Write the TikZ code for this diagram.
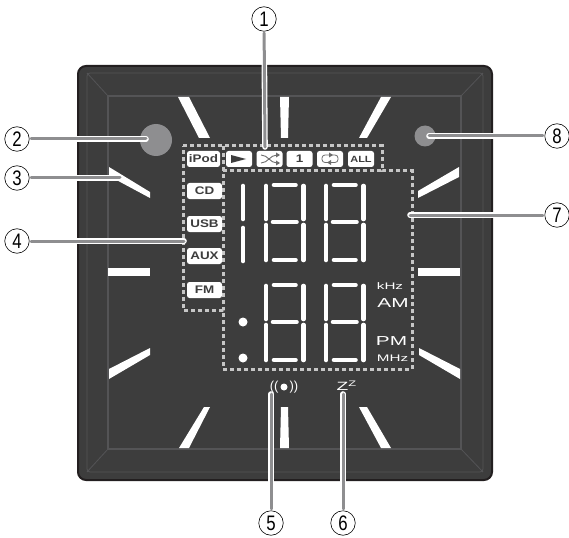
\documentclass[tikz,border=0pt]{standalone}
\usepackage{fontspec}
\setmainfont{Liberation Sans}
\newfontfamily\btnfont[FakeStretch=1.22]{Liberation Sans Bold}
\newfontfamily\widefont[FakeStretch=1.6]{Liberation Sans}
\newfontfamily\slimfont[FakeStretch=0.8]{Liberation Sans}
\definecolor{panelfill}{HTML}{3D3D3D}
\definecolor{paneledge}{HTML}{231F20}
\definecolor{panelline}{HTML}{545456}
\definecolor{leadgray}{HTML}{8E8E90}
\definecolor{framegray}{HTML}{C6C6C6}
\tikzset{
    btn/.style={fill=white, text=panelfill, rounded corners=2.5pt, inner sep=0pt, font=\btnfont\fontsize{11}{11}\selectfont},
    seg/.style={draw=white, line width=4.6pt, line cap=round},
    dotframe/.style={draw=framegray, line width=3pt, dash pattern=on 4pt off 3pt},
    halo/.style={draw=white, line width=5.6pt, line cap=round, shorten <=3pt},
    lead/.style={draw=leadgray, line width=3pt, line cap=round, shorten <=1.5pt},
    callout/.style={circle, draw=black, line width=0.6pt, fill=white, minimum size=24.5pt, inner sep=0pt, font=\slimfont\fontsize{21}{21}\selectfont},
    unit/.style={text=white, inner sep=0pt, font=\widefont\fontsize{9.5}{9.5}\selectfont},
    unitbig/.style={text=white, inner sep=0pt, font=\widefont\fontsize{13}{13}\selectfont}
}
\begin{document}
\begin{tikzpicture}[x=1pt, y=-1pt]
    \useasboundingbox (0, 0) rectangle (569, 537);

    % Boitier et biseau
    \draw[fill=panelfill, draw=paneledge, line width=2pt, rounded corners=8pt] (78, 66) rectangle (492, 480);
    \draw[panelline, line width=0.8pt, rounded corners=3pt] (87, 73) rectangle (483, 472);
    \draw[panelline, line width=1.2pt] (108, 96) rectangle (461, 449);
    \draw[panelline, line width=0.8pt] (87, 73) -- (108, 96);
    \draw[panelline, line width=0.8pt] (483, 73) -- (461, 96);
    \draw[panelline, line width=0.8pt] (87, 472) -- (108, 449);
    \draw[panelline, line width=0.8pt] (483, 472) -- (461, 449);

    % Traits blancs autour de l'afficheur
    \foreach \xa/\ya/\xb/\yb/\xc/\yc/\xd/\yd in {
        178/97/189/97/210/138/199/138, 280/97/289/97/288/138/281/138, 381/97/391/97/367/138/359/138,
        109/167/150/192/150/198/109/176, 108/268/150/268/150/276/108/276, 109/369/150/348/150/355/109/379,
        459/167/459/177/418/198/418/191, 418/268/460/268/460/276/418/276, 419/348/419/355/460/379/460/369,
        204/407/210/407/189/448/179/448, 281/407/288/407/289/448/280/448, 359/407/367/407/391/448/381/448} {
        \fill[white] (\xa, \ya) -- (\xb, \yb) -- (\xc, \yc) -- (\xd, \yd) -- cycle;
    }

    % Voyants
    \fill[leadgray] (156, 140) circle (16);
    \fill[leadgray] (425, 136) circle (10.5);

    % Cadres en pointilles
    \draw[dotframe] (183, 146) -- (382, 146) -- (382, 171) -- (412, 171) -- (412, 369) -- (223, 369) -- (223, 310) -- (183, 310) -- cycle;
    \draw[dotframe] (223, 146) -- (223, 310);
    \draw[dotframe] (223, 171) -- (382, 171);

    % Touches du haut
    \node[btn, minimum width=33pt, minimum height=16pt] (ipod) at (203.5, 159) {iPod};
    \node[btn, minimum width=26pt, minimum height=16pt] (play) at (239, 159) {};
    \node[btn, minimum width=26pt, minimum height=16pt] (shuffle) at (269.5, 159) {};
    \node[btn, minimum width=26pt, minimum height=16pt] (one) at (299.5, 159) {1};
    \node[btn, minimum width=26pt, minimum height=16pt] (repeat) at (330, 159) {};
    \node[btn, minimum width=26pt, minimum height=16pt, font=\btnfont\fontsize{9}{9}\selectfont] (all) at (361, 159) {ALL};

    % Touches de gauche
    \foreach \name/\lab/\y in {cd/CD/191, usb/USB/224, aux/AUX/256, fm/FM/290} {
        \node[btn, minimum width=35pt, minimum height=16pt] (\name) at (204.5, \y) {\lab};
    }

    % Icones des touches
    \fill[panelfill] (231, 155) -- (246, 159) -- (231, 163) -- cycle;
    \draw[panelfill!75, line width=0.9pt] (261, 155) .. controls (268, 155) and (270, 163) .. (277, 163);
    \draw[panelfill!75, line width=0.9pt] (261, 163) .. controls (268, 163) and (270, 155) .. (277, 155);
    \fill[panelfill!75] (276, 152.5) -- (280, 155) -- (276, 157.5) -- cycle;
    \fill[panelfill!75] (276, 160.5) -- (280, 163) -- (276, 165.5) -- cycle;
    \draw[panelfill!75, line width=0.8pt, rounded corners=3pt] (322, 155) rectangle (338, 162.5);
    \fill[panelfill!75] (329, 152.5) -- (333, 155) -- (329, 157.5) -- cycle;
    \fill[panelfill!75] (331, 160) -- (327, 162.5) -- (331, 165) -- cycle;

    % Afficheur : chiffre 1 de la ligne haute
    \draw[seg] (243, 186) -- (243, 219);
    \draw[seg] (243, 228) -- (243, 261);

    % Chiffres a sept segments
    \foreach \xl/\yt [count=\i] in {266/183, 326/183, 266/283, 326/283} {
        \pgfmathsetmacro{\xr}{\xl+37.5}
        \pgfmathsetmacro{\ym}{\yt+39}
        \pgfmathsetmacro{\yb}{\yt+78}
        \draw[seg] (\xl, \yt+3) -- (\xl, \ym-3);
        \draw[seg] (\xl, \ym+3) -- (\xl, \yb-1);
        \draw[seg] (\xr, \yt+3) -- (\xr, \ym-3);
        \draw[seg] (\xr, \ym+3) -- (\xr, \yb-1);
        \draw[seg] (\xl+8, \yt+2) -- (\xr-8, \yt+2);
        \draw[seg] (\xl+7, \ym) -- (\xr-7, \ym);
        \draw[seg] (\xl+8, \yb-1) -- (\xr-8, \yb-1);
    }
    \fill[white] (243, 322) circle (4.5);
    \fill[white] (243, 358) circle (4.5);

    % Unites
    \node[unit] (khz) at (390, 286) {kHz};
    \node[unitbig] (am) at (393, 303) {AM};
    \node[unitbig] (pm) at (391.5, 341) {PM};
    \node[unit] (mhz) at (392.5, 358) {MHz};

    % Symboles du bas
    \node[text=white, inner sep=0pt, font=\fontsize{13}{13}\selectfont] (alarm) at (284, 387) {((\hspace{11pt}))};
    \fill[white] (alarm) circle (3.5);
    \node[text=white, inner sep=0pt, font=\widefont\fontsize{12}{12}\selectfont] (zz) at (346.5, 386) {Z\raisebox{4pt}{\fontsize{8}{8}\selectfont Z}};

    % Reperes numerotes
    \foreach \i/\cx/\cy/\ex/\ey in {1/264/19/265/147, 2/17/139/146/139, 3/17/178/120/178, 4/17/241/184/241,
            5/271/523/271/394, 6/343/523/343/394, 7/557/215/410/215, 8/557/136/429/136} {
        \coordinate (P\i) at (\ex, \ey);
        \node[callout] (C\i) at (\cx, \cy) {\i};
        \draw[halo] (C\i) -- (P\i);
        \draw[lead] (C\i) -- (P\i);
    }
\end{tikzpicture}
\end{document}
